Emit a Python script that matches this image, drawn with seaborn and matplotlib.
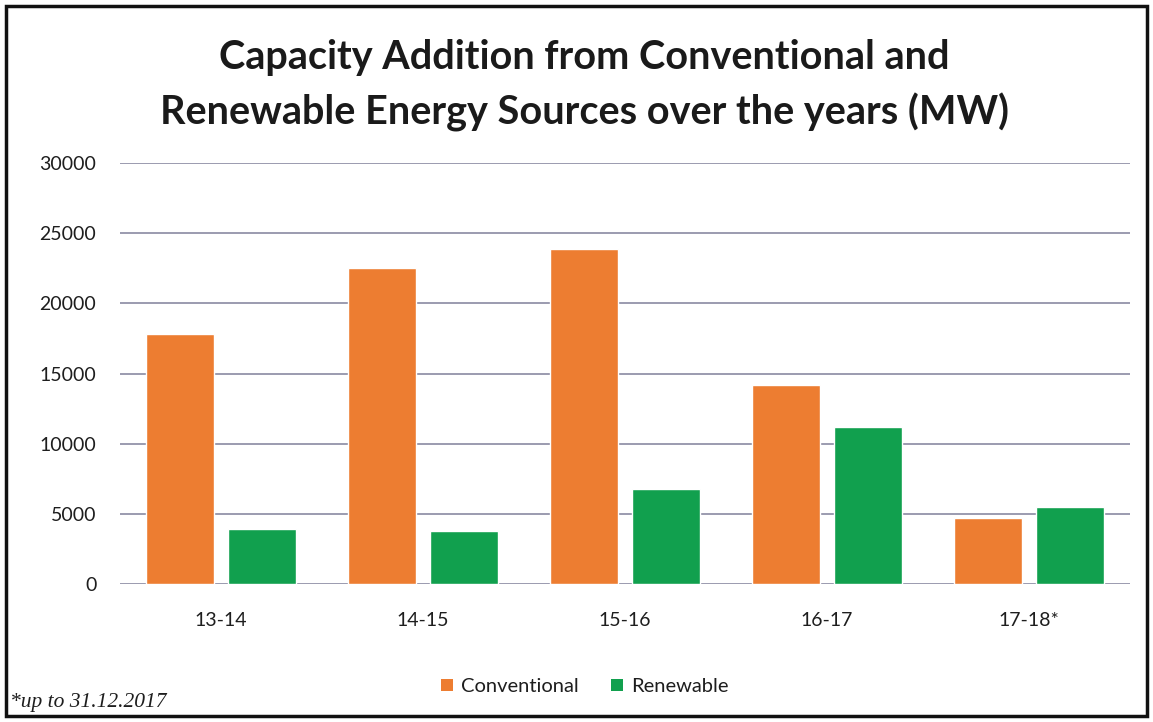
import matplotlib
matplotlib.use("Agg")
import matplotlib.pyplot as plt
import seaborn as sns
import pandas as pd
from matplotlib.patches import Rectangle, Patch

years = ["13-14", "14-15", "15-16", "16-17", "17-18*"]
conventional = [17800, 22500, 23900, 14200, 4700]
renewable = [3900, 3800, 6800, 11200, 5500]
series_names = ["Conventional", "Renewable"]
colors = ["#ED7D31", "#11A04E"]
yticks = [0, 5000, 10000, 15000, 20000, 25000, 30000]

df = pd.DataFrame({
    "year": years * 2,
    "source": [series_names[0]] * len(years) + [series_names[1]] * len(years),
    "mw": conventional + renewable,
})

sns.set_theme(style="white")
plt.rcParams["font.family"] = ["Lato", "DejaVu Sans"]

fig = plt.figure(figsize=(11.53, 7.22), dpi=100)
ax = fig.add_axes([0.104, 0.191, 0.876, 0.583])

sns.barplot(data=df, x="year", y="mw", hue="source", palette=colors,
            width=0.81, gap=0.17, saturation=1, legend=False, ax=ax,
            zorder=3)

ax.set_ylim(0, 30000)
ax.set_yticks(yticks)
ax.set_yticklabels([str(v) for v in yticks])
ax.yaxis.grid(True, color="#8a8aa2", linewidth=1.2, zorder=0)
ax.set_axisbelow(True)
for s in ax.spines.values():
    s.set_visible(False)
ax.tick_params(axis="y", length=0, pad=17, labelsize=14, labelcolor="#1e1e1e")
ax.tick_params(axis="x", length=0, pad=20, labelsize=14, labelcolor="#1e1e1e")
ax.set_xlabel("")
ax.set_ylabel("")
ax.set_xlim(-0.5, len(years) - 0.5)

fig.text(0.507, 0.882, "Capacity Addition from Conventional and\nRenewable Energy Sources over the years (MW)",
         ha="center", va="center", fontsize=28.5, fontweight="bold",
         color="#1a1a1a", linespacing=1.53)

handles = [Patch(facecolor=c, edgecolor="none") for c in colors]
fig.legend(handles, series_names, loc="center", bbox_to_anchor=(0.507, 0.049),
           ncol=2, frameon=False, fontsize=14.5, handlelength=0.6,
           handleheight=0.6, handletextpad=0.4, columnspacing=1.6,
           labelcolor="#1e1e1e")

fig.text(0.009, 0.027, "*up to 31.12.2017", ha="left", va="center",
         fontsize=15.5, style="italic", family=["Liberation Serif"], color="#1e1e1e")

fig.patches.append(Rectangle((0.005, 0.008), 0.99, 0.984, transform=fig.transFigure,
                             fill=False, edgecolor="#111111", linewidth=2.5))

fig.savefig("out.png", dpi=100, facecolor="white")
